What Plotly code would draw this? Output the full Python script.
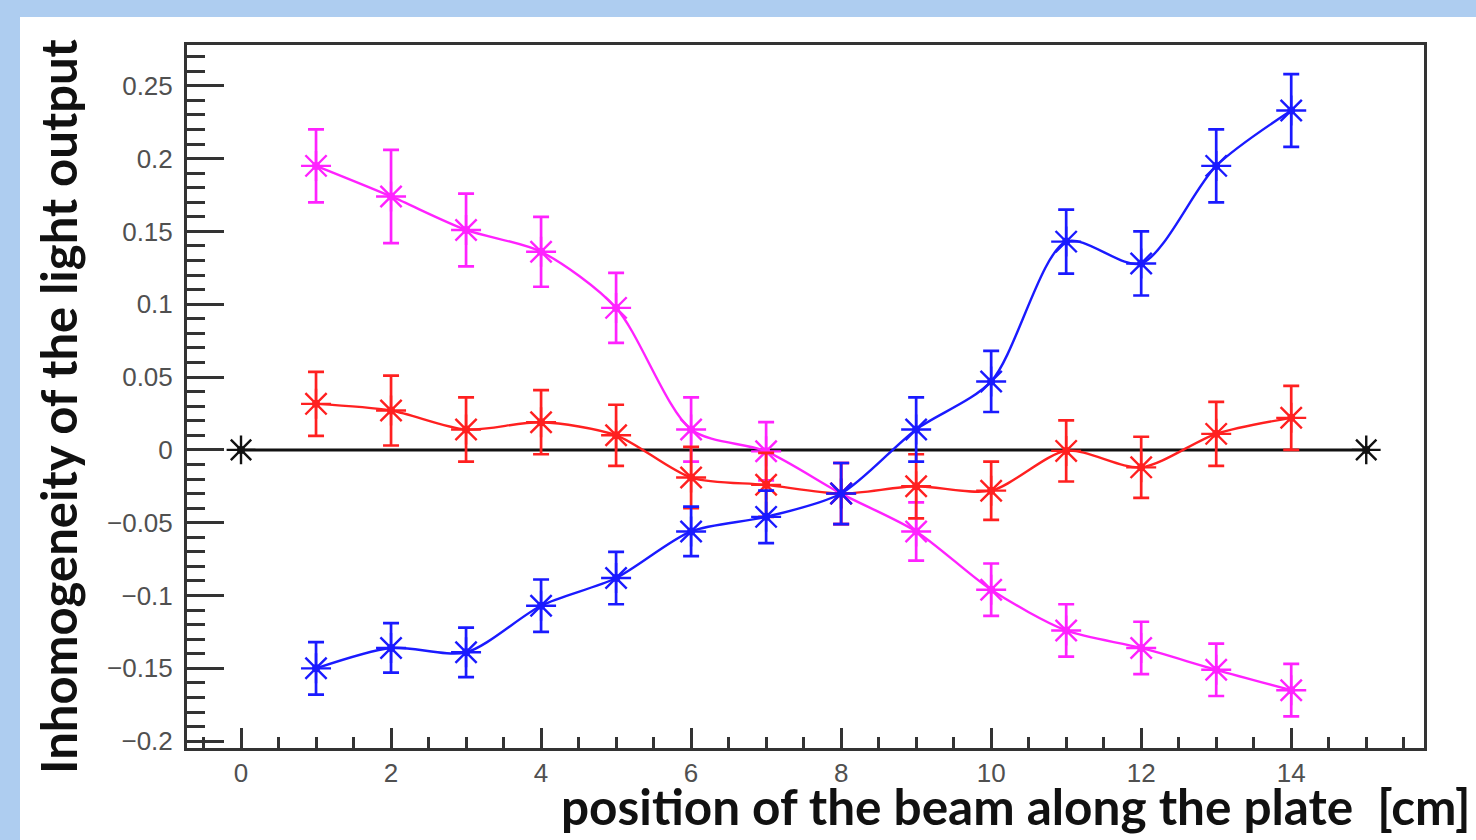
import plotly.graph_objects as go

# ---- data ----
positions = list(range(1, 15))

magenta_y = [0.195, 0.174, 0.151, 0.136, 0.0975, 0.014, -0.001, -0.030, -0.056, -0.096, -0.124, -0.136, -0.151, -0.165]
magenta_err = [0.025, 0.032, 0.025, 0.024, 0.024, 0.022, 0.020, 0.021, 0.020, 0.018, 0.018, 0.018, 0.018, 0.018]

red_y = [0.0316, 0.027, 0.014, 0.019, 0.010, -0.019, -0.024, -0.030, -0.025, -0.028, -0.0007, -0.012, 0.011, 0.022]
red_err = [0.022, 0.024, 0.022, 0.022, 0.021, 0.021, 0.022, 0.021, 0.022, 0.020, 0.021, 0.021, 0.022, 0.022]

blue_y = [-0.150, -0.136, -0.139, -0.107, -0.088, -0.056, -0.046, -0.030, 0.014, 0.047, 0.143, 0.128, 0.195, 0.233]
blue_err = [0.018, 0.017, 0.017, 0.018, 0.018, 0.017, 0.018, 0.021, 0.022, 0.021, 0.022, 0.022, 0.025, 0.025]

ref_x = [0, 15]
ref_y = [0, 0]

y_ticks = [-0.2, -0.15, -0.1, -0.05, 0, 0.05, 0.1, 0.15, 0.2, 0.25]
y_tick_text = ["\u22120.2", "\u22120.15", "\u22120.1", "\u22120.05", "0", "0.05", "0.1", "0.15", "0.2", "0.25"]
x_ticks = [0, 2, 4, 6, 8, 10, 12, 14]

x_title = "position of the beam along the plate  [cm]"
y_title = "Inhomogeneity of the light output"

# ---- layout geometry ----
W, H = 1476, 840
ML, MR, MT, MB = 187, 52, 45, 92
PW, PH = W - ML - MR, H - MT - MB


def px_to_paper_x(px):
    return (px - ML) / PW


def px_to_paper_y(py):
    return (H - MB - py) / PH


fig = go.Figure()

# reference line y=0
fig.add_trace(go.Scatter(
    x=ref_x, y=ref_y, mode="lines+markers",
    line=dict(color="#111111", width=3),
    marker=dict(symbol="asterisk-open", size=24, color="#111111", line=dict(width=2.4, color="#111111")),
    showlegend=False, hoverinfo="skip"))
fig.add_trace(go.Scatter(
    x=ref_x, y=ref_y, mode="markers",
    marker=dict(symbol="circle", size=8, color="#111111"),
    showlegend=False, hoverinfo="skip"))

for yv, ev, col in [(magenta_y, magenta_err, "#ff22ff"),
                    (red_y, red_err, "#ff2020"),
                    (blue_y, blue_err, "#1a1aff")]:
    fig.add_trace(go.Scatter(
        x=positions, y=yv, mode="lines+markers",
        line=dict(color=col, width=2.4, shape="spline", smoothing=0.8),
        marker=dict(symbol="asterisk-open", size=25, color=col, line=dict(width=2.4, color=col)),
        error_y=dict(type="data", array=ev, visible=True, color=col, thickness=2.7, width=8),
        showlegend=False))
    fig.add_trace(go.Scatter(
        x=positions, y=yv, mode="markers",
        marker=dict(symbol="circle", size=8, color=col),
        showlegend=False, hoverinfo="skip"))

tickfont = dict(family="Liberation Sans, Arial, sans-serif", size=26, color="#505050")

fig.update_xaxes(
    range=[-0.72, 15.77], tickvals=x_ticks, ticktext=[str(v) for v in x_ticks],
    ticks="inside", ticklen=20, tickwidth=2.5, tickcolor="#333333",
    minor=dict(dtick=0.5, tick0=0, ticks="inside", ticklen=11, tickwidth=2.5, tickcolor="#333333"),
    showline=True, linecolor="#333333", linewidth=3, mirror=True,
    showgrid=False, zeroline=False, tickfont=tickfont, ticklabelstandoff=0)
fig.update_yaxes(
    range=[-0.2047, 0.278], tickvals=y_ticks, ticktext=y_tick_text,
    ticks="inside", ticklen=37, tickwidth=2.5, tickcolor="#333333",
    minor=dict(dtick=0.01, tick0=0, ticks="inside", ticklen=18, tickwidth=2.5, tickcolor="#333333"),
    showline=True, linecolor="#333333", linewidth=3, mirror=True,
    showgrid=False, zeroline=False, tickfont=tickfont, ticklabelstandoff=6)

# white panel over light-blue slide background
fig.add_shape(type="rect", xref="paper", yref="paper",
              x0=px_to_paper_x(20), x1=px_to_paper_x(W + 5),
              y0=px_to_paper_y(H + 5), y1=px_to_paper_y(17),
              fillcolor="white", line=dict(width=0), layer="below")

fig.add_annotation(text=x_title, xref="paper", yref="paper",
                   x=px_to_paper_x(1473), y=px_to_paper_y(806),
                   xanchor="right", yanchor="middle", showarrow=False,
                   font=dict(family="Lato, Open Sans, sans-serif", size=49.5, color="#111111", weight="bold"))
fig.add_annotation(text=y_title, xref="paper", yref="paper",
                   x=px_to_paper_x(58), y=px_to_paper_y(407),
                   xanchor="center", yanchor="middle", textangle=-90, showarrow=False,
                   font=dict(family="Lato, Open Sans, sans-serif", size=49, color="#111111", weight="bold"))

fig.update_layout(
    width=W, height=H,
    margin=dict(l=ML, r=MR, t=MT, b=MB),
    paper_bgcolor="#aecdf0", plot_bgcolor="white")

fig.write_html("out.html",
               config={"displayModeBar": False},
               post_script="document.body.style.margin='0';document.body.style.overflow='hidden';")
